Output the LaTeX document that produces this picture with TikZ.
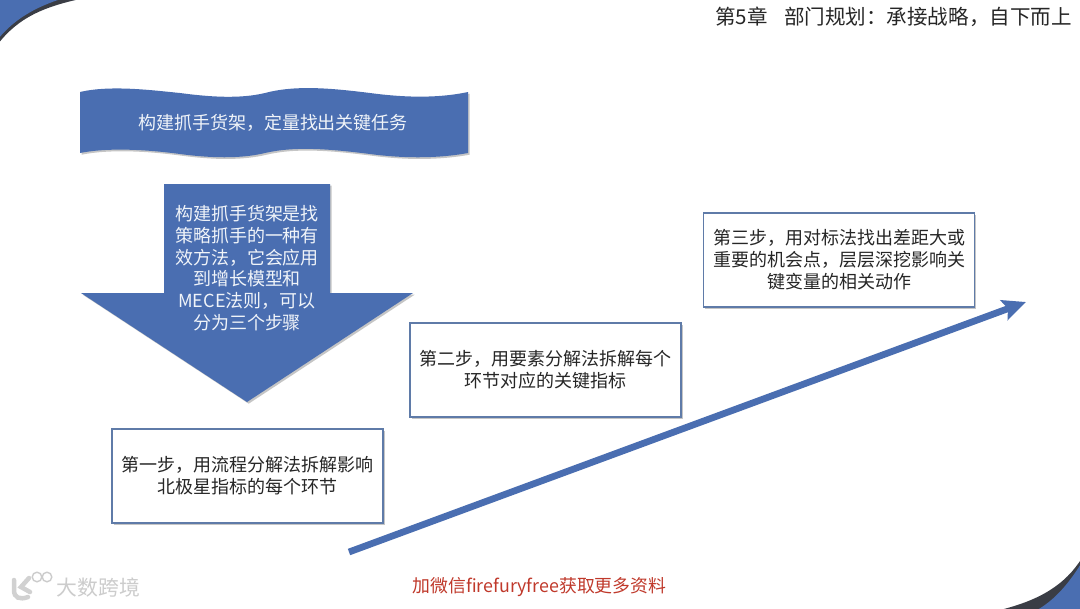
\documentclass[tikz,border=0pt]{standalone}
\usepackage{fontspec}
\setmainfont{Noto Sans CJK SC}
\usepackage{xcolor}
\usetikzlibrary{arrows.meta,shadows}
\definecolor{slideblue}{HTML}{4A6EB1}
\definecolor{boxline}{HTML}{5F7BA8}
\definecolor{darkrim}{HTML}{3A3D45}
\definecolor{footred}{HTML}{C0392B}
\tikzset{softshadow/.style={general shadow={shadow xshift=1.2pt,shadow yshift=-1.2pt,fill=gray,opacity=0.45}},
  stepbox/.style={draw=boxline,line width=1pt,fill=white,softshadow,minimum width=6.78cm,minimum height=2.35cm,
    align=center,text=black!85,font=\fontsize{12.8}{15.6}\selectfont,inner sep=0,
    execute at begin node={\rule{0pt}{14.1pt}}},
  bluetext/.style={align=center,text=white!92!slideblue,font=\fontsize{12.8}{15.4}\selectfont,inner sep=0},
  blueshape/.style={fill=slideblue,softshadow}
}

\begin{document}
\begin{tikzpicture}[x=0.025cm,y=-0.025cm]
  \clip (0,0) rectangle (1080,608);
  \fill[white] (0,0) rectangle (1080,608);
  % corners
  \fill[darkrim] (-5,48) .. controls (15,20) and (40,7) .. (85,-2) -- (-5,-2) -- cycle;
  \fill[slideblue] (-5,43) .. controls (12,20) and (35,7) .. (64,-2) -- (-5,-2) -- cycle;
  \fill[darkrim] (1000,610) .. controls (1040,600) and (1065,585) .. (1082,558) -- (1082,610) -- cycle;
  \fill[slideblue] (1037,610) .. controls (1055,600) and (1070,582) .. (1082,562) -- (1082,610) -- cycle;
  % banner and big arrow
  \path[blueshape] (80,92) .. controls (110,85) and (150,90) .. (180,93)
    .. controls (210,97) and (240,99) .. (265,93)
    .. controls (295,85) and (330,88) .. (370,93)
    .. controls (400,97) and (435,99) .. (468,92)
    -- (468,153) .. controls (435,159) and (400,158) .. (370,154)
    .. controls (330,149) and (295,146) .. (265,153)
    .. controls (240,159) and (210,158) .. (180,154)
    .. controls (150,150) and (110,147) .. (80,153) -- cycle;
  \path[blueshape] (164,184) -- (330,184) -- (330,293) -- (413,293) -- (247,402)
    -- (81,293) -- (164,293) -- cycle;
  \begin{scope}[every node/.style={bluetext}]
    \node (banner) at (273,123) {构建抓手货架，定量找出关键任务};
    \node (intro) at (247,268) {构建抓手货架是找\\策略抓手的一种有\\效方法，它会应用\\到增长模型和\\MECE法则，可以\\分为三个步骤};
  \end{scope}
  % steps
  \node[stepbox] (S1) at (247.5,476) {第一步，用流程分解法拆解影响\\北极星指标的每个环节};
  \node[stepbox] (S2) at (545.5,370) {第二步，用要素分解法拆解每个\\环节对应的关键指标};
  \node[stepbox] (S3) at (839,260) {第三步，用对标法找出差距大或\\重要的机会点，层层深挖影响关\\键变量的相关动作};
  % rising line
  \coordinate (riseA) at (349,552);
  \coordinate (riseB) at (1026,302);
  \draw[draw=slideblue,line width=4.8pt,-{Stealth[length=0.58cm,width=0.52cm,inset=0.1cm]}] (riseA) -- (riseB);
  % title, footer, watermark
  \node[font=\fontsize{14.6}{16}\selectfont,text=black!85,inner sep=0] (title) at (893.5,17) {第5章\hspace{0.8em}部门规划：承接战略，自下而上};
  \node[font=\fontsize{12.7}{14}\selectfont,text=footred,inner sep=0] (foot) at (539.5,587) {加微信firefuryfree获取更多资料};
  \node[font=\fontsize{14.8}{16}\selectfont,text=black!20,inner sep=0] (mark) at (98.5,588) {大数跨境};
  \draw[black!18,line width=3.2pt,line cap=round] (14,580) -- (14,590) .. controls (14,598) and (20,600) .. (28,597);
  \draw[black!18,line width=3.2pt,line cap=round] (29,578) -- (21,587) -- (30,592);
  \draw[black!20,line width=1pt] (37,577) circle (4.8) (47,577) circle (4.8);
\end{tikzpicture}
\end{document}
